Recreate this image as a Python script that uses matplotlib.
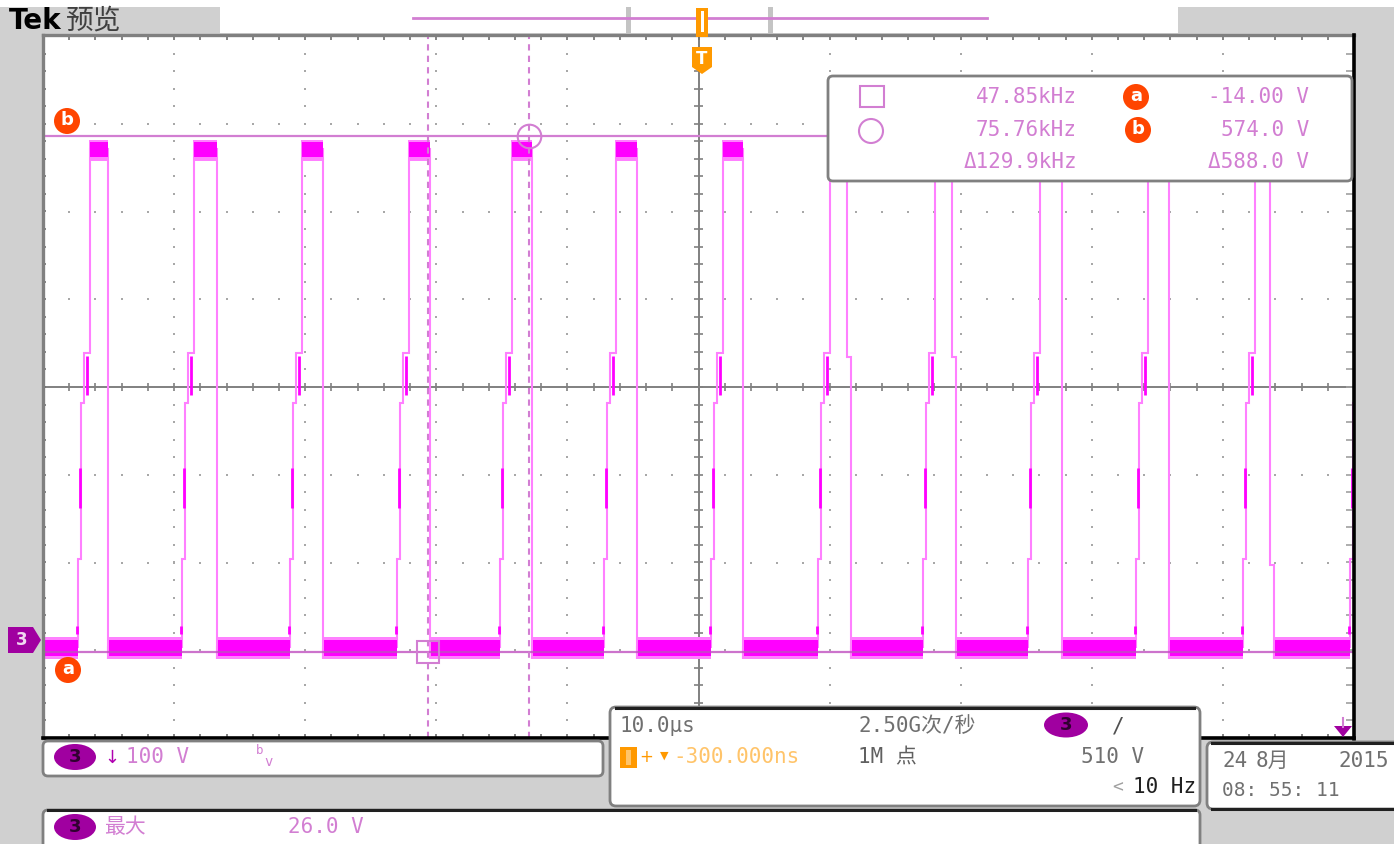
import matplotlib
matplotlib.use("Agg")
import matplotlib.pyplot as plt
from matplotlib.patches import Rectangle, FancyBboxPatch, Circle, Ellipse, Polygon
import numpy as np

W, H = 1394, 844

# ---- channel 3 / timebase setup ----
VOLTS_PER_DIV = 100.0
US_PER_DIV = 10.0
CH3_OFFSET_DIV = -2.883       # ground marker, divisions from screen centre
TRIG_OFFSET_US = 0.3          # trigger sits 300 ns right of centre

# pulse edges, us from screen centre
RISE_US = [-47.33, -39.40, -31.16, -23.00, -15.14, -7.21, 0.95,
           9.12, 17.13, 25.14, 33.37, 41.54, 49.69]
FALL_US = [-45.04, -36.73, -28.64, -20.48, -12.70, -4.69, 3.39,
           11.63, 19.64, 27.73, 35.89, 43.90]
# some falling edges pause part way down (volts); None = clean edge
FALL_STEP_V = [None, None, None, None, None, None, None, 322, 322, None, None, 85]

# staircase on every rising edge: (offset us, volts)
RISE_STEP_DT = [0.0, 0.0, 0.2, 0.2, 0.46, 0.46, 0.9, 0.9]
RISE_STEP_V = [-8, 92, 92, 270, 270, 327, 327, 560]
# brighter overlapping-acquisition pieces of the rising edge
RISE_SEG_DT = [-0.05, 0.15, 0.66]
RISE_SEG_V0 = [7, 150, 279]
RISE_SEG_V1 = [16, 196, 324]

LOW_BAND_V = (-18, 0)
LOW_EDGE_V = (-22, 3)
HIGH_BAND_V = (550, 567)
HIGH_EDGE_V = (546, 570)

# cursors (from readout)
CURSOR_A_V = -14.0
CURSOR_B_V = 574.0
CURSOR_SQ_US = -20.9
CURSOR_CI_US = -13.2

READ_FREQ = ["47.85kHz", "75.76kHz", "\u0394129.9kHz"]
READ_VOLT = ["-14.00 V", "574.0 V", "\u0394588.0 V"]

ORCHID = "#D27ED2"
MAGENTA = "#FF00FF"
PINK = "#FF80FF"
PURPLE = "#A000A0"
ORANGE_RED = "#FF4500"
ORANGE = "#FF9900"
LIGHT_ORANGE = "#FFC46A"
GRAY_TXT = "#707070"
BG_GRAY = "#D0D0D0"
MONO = ["DejaVu Sans Mono", "Noto Sans CJK SC"]


def vdiv(v):
    return v / VOLTS_PER_DIV + CH3_OFFSET_DIV


def tdiv(t):
    return t / US_PER_DIV


fig = plt.figure(figsize=(W / 100, H / 100), dpi=100)
fig.patch.set_facecolor(BG_GRAY)

# background layer (pixel coords)
bg = fig.add_axes([0, 0, 1, 1], zorder=0)
bg.set_xlim(0, W)
bg.set_ylim(H, 0)
bg.axis("off")
bg.add_patch(Rectangle((0, 0), W, 7, color="white", lw=0))
bg.add_patch(Rectangle((220, 7), 958, 26, color="white", lw=0))
bg.add_patch(Rectangle((43, 36), 1311, 702, color="white", lw=0))

# graticule / waveform layer (divisions)
ax = fig.add_axes([43 / W, 1 - 738 / H, 1311 / W, 702 / H], zorder=1)
ax.set_xlim(-5, 5)
ax.set_ylim(-4, 4)
ax.axis("off")

steps_x = np.arange(-5, 5.001, 0.2)
steps_y = np.arange(-4, 4.001, 0.2)
for k in [-4, -3, -2, -1, 1, 2, 3, 4]:
    ax.scatter(np.full_like(steps_y, k), steps_y, s=3, marker="s", color="#A8A8A8", lw=0, zorder=1)
for m in [-3, -2, -1, 1, 2, 3]:
    ax.scatter(steps_x, np.full_like(steps_x, m), s=3, marker="s", color="#A8A8A8", lw=0, zorder=1)
ax.axhline(0, color="#808080", lw=1.4, zorder=1)
ax.axvline(0, color="#808080", lw=1.4, zorder=1)
ax.vlines(steps_x, -0.05, 0.05, color="#808080", lw=1.2, zorder=1)
ax.hlines(steps_y, -0.035, 0.035, color="#808080", lw=1.2, zorder=1)
ax.vlines(steps_x, 3.95, 4.0, color="#707070", lw=1.2, zorder=1)
ax.vlines(steps_x, -4.0, -3.95, color="#707070", lw=1.2, zorder=1)
ax.hlines(steps_y, -5.0, -4.975, color="#707070", lw=1.2, zorder=1)
ax.hlines(steps_y, 4.94, 5.0, color="#A0A0A0", lw=1.2, zorder=1)

# trace: thin light line through all edges
xs, ys = [-5.0], [vdiv(-8)]
for i, r in enumerate(RISE_US):
    for dt, v in zip(RISE_STEP_DT, RISE_STEP_V):
        xs.append(tdiv(r + dt))
        ys.append(vdiv(v))
    if i < len(FALL_US):
        f = FALL_US[i]
        xs.append(tdiv(f - 0.3) if FALL_STEP_V[i] else tdiv(f))
        ys.append(vdiv(560))
        if FALL_STEP_V[i]:
            xs += [tdiv(f - 0.3), tdiv(f)]
            ys += [vdiv(FALL_STEP_V[i]), vdiv(FALL_STEP_V[i])]
        xs += [tdiv(f), tdiv(f)]
        ys += [vdiv(-22), vdiv(-8)]
ax.plot(xs, ys, color=PINK, lw=1.5, zorder=3, solid_joinstyle="miter")

for r in RISE_US:
    for dt, v0, v1 in zip(RISE_SEG_DT, RISE_SEG_V0, RISE_SEG_V1):
        ax.vlines(tdiv(r + dt), vdiv(v0), vdiv(v1), color=MAGENTA, lw=2.0, zorder=4)

# dense low and high levels
low_start = [-50.0] + FALL_US
for a, b in zip(low_start, RISE_US):
    ax.add_patch(Rectangle((tdiv(a), vdiv(LOW_EDGE_V[0])), tdiv(b - a), vdiv(LOW_EDGE_V[1]) - vdiv(LOW_EDGE_V[0]),
                           color=PINK, lw=0, zorder=3))
    ax.add_patch(Rectangle((tdiv(a + 0.1), vdiv(LOW_BAND_V[0])), tdiv(b - a - 0.1), vdiv(LOW_BAND_V[1]) - vdiv(LOW_BAND_V[0]),
                           color=MAGENTA, lw=0, zorder=4))
for r, f in zip(RISE_US, FALL_US):
    ax.add_patch(Rectangle((tdiv(r + 0.85), vdiv(HIGH_EDGE_V[0])), tdiv(f - r - 0.85), vdiv(HIGH_EDGE_V[1]) - vdiv(HIGH_EDGE_V[0]),
                           color=PINK, lw=0, zorder=3))
    ax.add_patch(Rectangle((tdiv(r + 0.9), vdiv(HIGH_BAND_V[0])), tdiv(f - r - 0.9), vdiv(HIGH_BAND_V[1]) - vdiv(HIGH_BAND_V[0]),
                           color=MAGENTA, lw=0, zorder=4))

# cursors
ax.axhline(vdiv(CURSOR_A_V), color="#C050C0", lw=1.6, alpha=0.8, zorder=5)
ax.axhline(vdiv(CURSOR_B_V), color=ORCHID, lw=1.6, zorder=5)
for c in (CURSOR_SQ_US, CURSOR_CI_US):
    ax.axvline(tdiv(c + TRIG_OFFSET_US), color=ORCHID, lw=1.5, ls=(0, (3, 2.5)), zorder=5)
ax.plot(tdiv(CURSOR_SQ_US + TRIG_OFFSET_US), vdiv(CURSOR_A_V), marker="s", ms=16, mfc="none",
        mec=ORCHID, mew=1.5, zorder=6)
ax.plot(tdiv(CURSOR_CI_US + TRIG_OFFSET_US), vdiv(CURSOR_B_V), marker="o", ms=17, mfc="none",
        mec=ORCHID, mew=1.5, zorder=6)

# overlay: frame, readouts, panels (pixel coords)
ov = fig.add_axes([0, 0, 1, 1], zorder=2)
ov.set_xlim(0, W)
ov.set_ylim(H, 0)
ov.axis("off")
ov.patch.set_alpha(0)

# graticule frame sits under the info panels
ov.plot([43, 1354], [35, 35], color="#808080", lw=2.4, zorder=0.5)
ov.plot([43, 43], [35, 738], color="#808080", lw=2.4, zorder=0.5)
ov.plot([1354, 1354], [35, 739], color="black", lw=2.6, zorder=0.5)
ov.plot([43, 1354], [738, 738], color="black", lw=2.6, zorder=0.5)

ov.text(9, 21, "Tek", fontsize=20, fontweight="bold", color="black", va="center", family="DejaVu Sans")
ov.text(66, 21, "预览", fontsize=20, color="#404040", va="center", family=["Noto Sans CJK SC"])

# record view in top bar
ov.plot([413, 987], [18, 18], color=ORCHID, lw=2)
ov.add_patch(Rectangle((626, 7), 5, 26, color="#C4C4C4", lw=0))
ov.add_patch(Rectangle((768, 7), 5, 26, color="#C4C4C4", lw=0))
ov.add_patch(Rectangle((696, 8), 12, 29, color=ORANGE, lw=0, zorder=2))
ov.add_patch(Rectangle((701, 11), 2.5, 21, color="white", lw=0, zorder=2.1))
ov.add_patch(Polygon([(692, 47), (712, 47), (712, 67), (702, 74), (692, 67)], color=ORANGE, lw=0))
ov.text(702, 59, "T", fontsize=12, fontweight="bold", color="white", ha="center", va="center")

# cursor labels on the graticule
for (cx, cy), lab in [((67, 121), "b"), ((68, 670), "a")]:
    ov.add_patch(Circle((cx, cy), 13, color=ORANGE_RED, lw=0))
    ov.text(cx, cy - 1, lab, fontsize=13, fontweight="bold", color="white", ha="center", va="center")

# channel ground marker
ov.add_patch(Polygon([(8, 627), (33, 627), (41, 640), (33, 653), (8, 653)], color=PURPLE, lw=0))
ov.text(22, 640, "3", fontsize=12, fontweight="bold", color="#F0D8F0", ha="center", va="center")

# trigger level arrow
ov.plot([1343, 1343], [718, 727], color=ORCHID, lw=1.5)
ov.add_patch(Polygon([(1334, 726), (1352, 726), (1343, 737)], color=PURPLE, lw=0))

# measurement box
ov.add_patch(FancyBboxPatch((828, 76), 524, 105, boxstyle="round,pad=0,rounding_size=5",
                            fc="white", ec="#808080", lw=2))
ov.add_patch(Rectangle((860, 86), 24, 21, fill=False, ec=ORCHID, lw=1.5, zorder=2))
ov.add_patch(Circle((871, 131), 12, fill=False, ec=ORCHID, lw=1.5, zorder=2))
rows_y = [97, 130, 162]
for y, fr, vo in zip(rows_y, READ_FREQ, READ_VOLT):
    ov.text(1077, y, fr, fontsize=15, color=ORCHID, ha="right", va="center", family=MONO)
    ov.text(1309, y, vo, fontsize=15, color=ORCHID, ha="right", va="center", family=MONO)
for (cx, cy), lab in [((1136, 97), "a"), ((1138, 130), "b")]:
    ov.add_patch(Circle((cx, cy), 13, color=ORANGE_RED, lw=0, zorder=2))
    ov.text(cx, cy - 1, lab, fontsize=13, fontweight="bold", color="white", ha="center", va="center")

# bottom-left channel panel
ov.add_patch(FancyBboxPatch((43, 741), 560, 35, boxstyle="round,pad=0,rounding_size=5",
                            fc="white", ec="#808080", lw=2))
ov.add_patch(Ellipse((75, 757), 42, 26, color=PURPLE, lw=0, zorder=2))
ov.text(75, 757, "3", fontsize=13, fontweight="bold", color="#300030", ha="center", va="center")
ov.text(112, 758, "\u2193", fontsize=13, color="#B000B0", ha="center", va="center")
ov.text(126, 757, "100 V", fontsize=15, color=ORCHID, va="center", family=MONO)
ov.text(256, 751, "b", fontsize=9, color=ORCHID, va="center", family=MONO)
ov.text(264, 762, "v", fontsize=10, color=ORCHID, va="center", family=MONO)

# measurement (max) panel
ov.add_patch(FancyBboxPatch((43, 810), 1157, 45, boxstyle="round,pad=0,rounding_size=5",
                            fc="white", ec="#808080", lw=2))
ov.plot([48, 1195], [810, 810], color="#202020", lw=2.2)
ov.add_patch(Ellipse((75, 827), 42, 26, color=PURPLE, lw=0, zorder=2))
ov.text(75, 827, "3", fontsize=13, fontweight="bold", color="#300030", ha="center", va="center")
ov.text(104, 827, "最大", fontsize=15, color=ORCHID, va="center", family=["Noto Sans CJK SC"])
ov.text(288, 827, "26.0 V", fontsize=15, color=ORCHID, va="center", family=MONO)

# horizontal / acquisition panel
ov.add_patch(FancyBboxPatch((610, 707), 590, 99, boxstyle="round,pad=0,rounding_size=6",
                            fc="white", ec="#808080", lw=2))
ov.plot([616, 1194], [708, 708], color="#202020", lw=2.2)
ov.text(620, 726, "10.0\u00b5s", fontsize=15, color=GRAY_TXT, va="center", family=MONO)
ov.text(858, 726, "2.50G次/秒", fontsize=15, color=GRAY_TXT, va="center", family=MONO)
ov.add_patch(Ellipse((1066, 725), 44, 25, color=PURPLE, lw=0, zorder=2))
ov.text(1066, 725, "3", fontsize=13, fontweight="bold", color="#300030", ha="center", va="center")
ov.text(1112, 726, "/", fontsize=15, color="#505050", va="center", family=MONO)
ov.add_patch(Rectangle((620, 747), 17, 21, color=ORANGE, lw=0, zorder=2))
ov.add_patch(Rectangle((626, 750), 5, 15, color=LIGHT_ORANGE, lw=0, zorder=2.1))
ov.text(646, 757, "+", fontsize=12, color=ORANGE, ha="center", va="center")
ov.text(664, 756, "\u25bc", fontsize=8, color=ORANGE, ha="center", va="center")
ov.text(673, 757, "-300.000ns", fontsize=15, color=LIGHT_ORANGE, va="center", family=MONO)
ov.text(858, 757, "1M 点", fontsize=15, color="#606060", va="center", family=MONO)
ov.text(1081, 757, "510 V", fontsize=15, color=GRAY_TXT, va="center", family=MONO)
ov.text(1112, 787, "<", fontsize=13, color="#A0A0A0", va="center", family=MONO)
ov.text(1133, 787, "10 Hz", fontsize=15, color="#202020", va="center", family=MONO)

# date / time panel
ov.add_patch(FancyBboxPatch((1207, 742), 200, 67, boxstyle="round,pad=0,rounding_size=6",
                            fc="white", ec="#808080", lw=2))
ov.plot([1212, 1394], [743, 743], color="#202020", lw=2.2)
ov.plot([1212, 1394], [809, 809], color="#202020", lw=2.2)
ov.text(1222, 761, "24", fontsize=15, color=GRAY_TXT, va="center", family=MONO)
ov.text(1256, 761, "8月", fontsize=15, color=GRAY_TXT, va="center", family=MONO)
ov.text(1338, 761, "2015", fontsize=15, color=GRAY_TXT, va="center", family=MONO)
ov.text(1222, 791, "08: 55: 11", fontsize=14, color=GRAY_TXT, va="center", family=MONO)

fig.savefig("out.png", dpi=100, facecolor=fig.get_facecolor())
